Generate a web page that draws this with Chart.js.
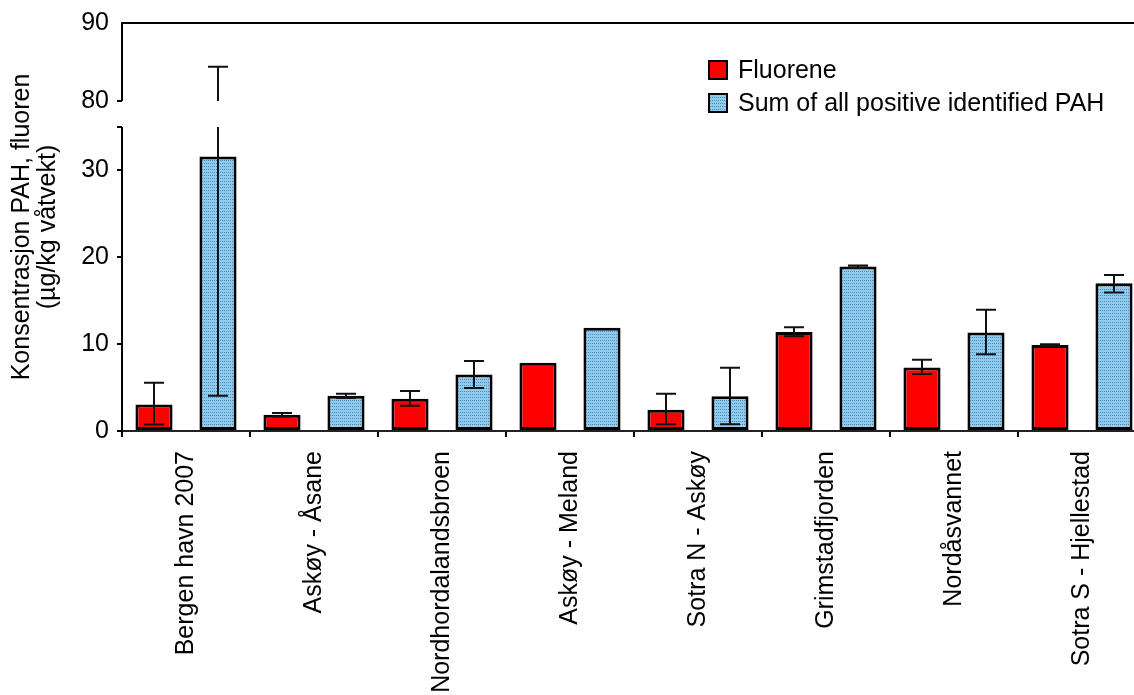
<!DOCTYPE html>
<html>
<head>
<meta charset="utf-8">
<script src="https://cdn.jsdelivr.net/npm/chart.js@4/dist/chart.umd.min.js"></script>
<style>
  html, body { margin: 0; padding: 0; background: #fff; overflow: hidden; }
  canvas { display: block; }
</style>
</head>
<body>
<canvas id="c" width="1160" height="695"></canvas>
<script>
// ---------- data ----------
const categories = ['Bergen havn 2007', 'Askøy - Åsane', 'Nordhordalandsbroen', 'Askøy - Meland',
                    'Sotra N - Askøy', 'Grimstadfjorden', 'Nordåsvannet', 'Sotra S - Hjellestad'];
const fluorene     = [3.05, 1.87, 3.7, 7.85, 2.45, 11.4, 7.3, 9.9];
const fluoreneLow  = [0.75, 1.67, 2.9, null, 0.77, 10.9, 6.55, 9.8];
const fluoreneHigh = [5.55, 2.07, 4.6, null, 4.3, 11.95, 8.2, 10.0];
const sumPah       = [31.6, 4.05, 6.5, 11.9, 4.0, 18.95, 11.35, 17.0];
const sumLow       = [4.05, 3.8, 4.95, null, 0.77, 18.8, 8.85, 15.95];
const sumHigh      = [84.4, 4.29, 8.05, null, 7.28, 19.05, 13.95, 17.97];
const yTicks       = [0, 10, 20, 30, 35, 80, 90];
const yTickLabels  = ['0', '10', '20', '30', '', '80', '90'];
const seriesNames  = ['Fluorene', 'Sum of all positive identified PAH'];

// axis break
const Y_MAX = 90, BREAK_LOW = 35, BREAK_HIGH = 80;
const LOW_FRAC = 304 / 408, GAP_FRAC = 26 / 408;

const FONT = "'Liberation Sans', Arial, sans-serif";
const FSIZE = 25;

// ---------- broken linear scale ----------
class BrokenScale extends Chart.LinearScale {
  _parts() {
    const h = this.bottom - this.top;
    const lowH = h * LOW_FRAC, gap = h * GAP_FRAC, upH = h - lowH - gap;
    return { h, lowH, gap, upH };
  }
  getPixelForValue(value) {
    const { lowH, gap, upH } = this._parts();
    if (value <= BREAK_LOW) return this.bottom - (value / BREAK_LOW) * lowH;
    if (value >= BREAK_HIGH) return this.top + upH - ((value - BREAK_HIGH) / (Y_MAX - BREAK_HIGH)) * upH;
    return this.bottom - lowH - ((value - BREAK_LOW) / (BREAK_HIGH - BREAK_LOW)) * gap;
  }
  getValueForPixel(pixel) {
    const { lowH, gap, upH } = this._parts();
    const d = this.bottom - pixel;
    if (d <= lowH) return d / lowH * BREAK_LOW;
    if (d <= lowH + gap) return BREAK_LOW + (d - lowH) / gap * (BREAK_HIGH - BREAK_LOW);
    return BREAK_HIGH + (d - lowH - gap) / upH * (Y_MAX - BREAK_HIGH);
  }
}
BrokenScale.id = 'broken';
BrokenScale.defaults = Chart.LinearScale.defaults;
Chart.register(BrokenScale);

// ---------- pattern for blue bars ----------
function makePattern() {
  const t = document.createElement('canvas');
  t.width = 2; t.height = 3;
  const c = t.getContext('2d');
  c.fillStyle = '#8fcaef';
  c.fillRect(0, 0, 2, 3);
  c.fillStyle = '#4f88b2';
  c.fillRect(0, 1, 1, 1);
  return c.createPattern(t, 'repeat');
}
const bluePattern = makePattern();

// ---------- plugins ----------
const errorBarPlugin = {
  id: 'errorBars',
  afterDatasetsDraw(chart) {
    const { ctx } = chart;
    const y = chart.scales.y;
    const errs = [[fluoreneLow, fluoreneHigh], [sumLow, sumHigh]];
    ctx.save();
    ctx.strokeStyle = '#111';
    ctx.lineWidth = 2;
    const cap = 10;
    errs.forEach(([lo, hi], di) => {
      const meta = chart.getDatasetMeta(di);
      meta.data.forEach((bar, i) => {
        if (lo[i] == null || hi[i] == null) return;
        const x = Math.round(bar.x);
        const segs = [];
        if (lo[i] < BREAK_LOW) segs.push([lo[i], Math.min(hi[i], BREAK_LOW)]);
        if (hi[i] > BREAK_HIGH) segs.push([Math.max(lo[i], BREAK_HIGH), hi[i]]);
        ctx.beginPath();
        segs.forEach(([a, b]) => {
          ctx.moveTo(x, y.getPixelForValue(a));
          ctx.lineTo(x, y.getPixelForValue(b));
        });
        const pl = y.getPixelForValue(lo[i]), ph = y.getPixelForValue(hi[i]);
        ctx.moveTo(x - cap, pl); ctx.lineTo(x + cap, pl);
        ctx.moveTo(x - cap, ph); ctx.lineTo(x + cap, ph);
        ctx.stroke();
      });
    });
    ctx.restore();
  }
};

const brokenAxisPlugin = {
  id: 'brokenAxis',
  afterDraw(chart) {
    const { ctx, chartArea } = chart;
    const y = chart.scales.y;
    const x = chartArea.left;
    ctx.save();
    ctx.strokeStyle = '#000';
    ctx.lineWidth = 2;
    ctx.beginPath();
    ctx.moveTo(x, y.getPixelForValue(0) + 1);
    ctx.lineTo(x, y.getPixelForValue(BREAK_LOW));
    ctx.moveTo(x, y.getPixelForValue(BREAK_HIGH));
    ctx.lineTo(x, y.getPixelForValue(Y_MAX));
    ctx.moveTo(x - 1, y.getPixelForValue(Y_MAX));
    ctx.lineTo(chart.width, y.getPixelForValue(Y_MAX));
    ctx.stroke();
    ctx.restore();
  }
};

const customLegendPlugin = {
  id: 'customLegend',
  afterDraw(chart) {
    const { ctx } = chart;
    const x0 = 708, y0 = 60, box = 20, rowH = 33;
    ctx.save();
    chart.data.datasets.forEach((ds, i) => {
      const yy = y0 + i * rowH;
      ctx.fillStyle = ds.backgroundColor;
      ctx.fillRect(x0, yy, box, box);
      ctx.strokeStyle = '#000';
      ctx.lineWidth = 2;
      ctx.strokeRect(x0 + 1, yy + 1, box - 2, box - 2);
      ctx.fillStyle = '#000';
      ctx.font = FSIZE + 'px ' + FONT;
      ctx.textBaseline = 'middle';
      ctx.textAlign = 'left';
      ctx.fillText(ds.label, x0 + box + 10, yy + box / 2 + 1);
    });
    ctx.restore();
  }
};

// ---------- chart ----------
new Chart(document.getElementById('c'), {
  type: 'bar',
  data: {
    labels: categories,
    datasets: [
      { label: seriesNames[0], data: fluorene, backgroundColor: '#ff0000',
        borderColor: '#000', borderWidth: 3, borderSkipped: false },
      { label: seriesNames[1], data: sumPah, backgroundColor: bluePattern,
        borderColor: '#000', borderWidth: 3, borderSkipped: false }
    ]
  },
  options: {
    responsive: false,
    devicePixelRatio: 1,
    animation: false,
    layout: { padding: { top: 23, right: 14, bottom: 0, left: 0 } },
    datasets: { bar: { categoryPercentage: 1.0, barPercentage: 0.58 } },
    plugins: { legend: { display: false }, tooltip: { enabled: false } },
    scales: {
      x: {
        type: 'category',
        grid: { display: true, drawOnChartArea: false, offset: true, tickLength: 6,
                color: '#000', lineWidth: 2 },
        border: { display: true, color: '#222', width: 2 },
        ticks: { autoSkip: false, maxRotation: 90, minRotation: 90, padding: 14,
                 color: '#000', font: { family: FONT, size: FSIZE } },
        afterFit(scale) { scale.height = 264; }
      },
      y: {
        type: 'broken',
        min: 0, max: Y_MAX,
        afterBuildTicks(scale) { scale.ticks = yTicks.map(v => ({ value: v })); },
        ticks: {
          padding: 8, color: '#000', font: { family: FONT, size: FSIZE },
          callback(value) { const i = yTicks.indexOf(value); return i >= 0 ? yTickLabels[i] : ''; }
        },
        grid: { display: true, drawOnChartArea: false, tickLength: 5, lineWidth: 2,
                color: ctx => (ctx.tick && ctx.tick.value === Y_MAX) ? 'rgba(0,0,0,0)' : '#000' },
        border: { display: false },
        title: { display: true, text: ['Konsentrasjon PAH, fluoren', '(µg/kg våtvekt)'],
                 color: '#000', font: { family: FONT, size: FSIZE, lineHeight: 1.04 },
                 padding: { top: 9, bottom: 0 } },
        afterFit(scale) { scale.width = 122; }
      }
    }
  },
  plugins: [errorBarPlugin, brokenAxisPlugin, customLegendPlugin]
});
</script>
</body>
</html>
